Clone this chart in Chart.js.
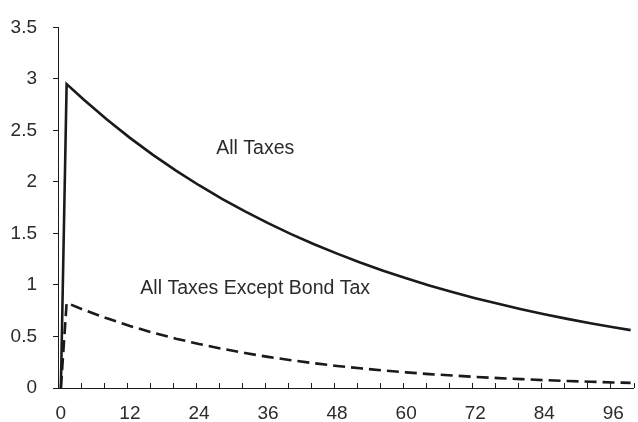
<!DOCTYPE html>
<html>
<head>
<meta charset="utf-8">
<script src="https://cdn.jsdelivr.net/npm/chart.js@4"></script>
<style>
  html, body { margin: 0; padding: 0; background: #fff; }
  #wrap { width: 638px; height: 422px; }
</style>
</head>
<body>
<div id="wrap"><canvas id="taxChart" width="638" height="422"></canvas></div>
<script>
// Values
const months = [0, 1, 4, 8, 12, 16, 20, 24, 28, 32, 36, 40, 44, 48, 52, 56, 60, 64, 68, 72, 76, 80, 84, 88, 92, 96, 99];
const allTaxes = [0, 2.95, 2.797, 2.606, 2.428, 2.263, 2.110, 1.968, 1.836, 1.714, 1.600, 1.494, 1.395, 1.304, 1.218, 1.139, 1.065, 0.996, 0.932, 0.872, 0.817, 0.765, 0.716, 0.671, 0.629, 0.590, 0.562];
const exceptBondTax = [0, 0.826, 0.758, 0.676, 0.602, 0.537, 0.479, 0.427, 0.381, 0.339, 0.302, 0.270, 0.240, 0.214, 0.191, 0.170, 0.152, 0.135, 0.121, 0.108, 0.096, 0.086, 0.076, 0.068, 0.061, 0.054, 0.050];
const xLabelTicks = [0, 12, 24, 36, 48, 60, 72, 84, 96];
const xMarkTicks = [3.5, 7.5, 11.5, 15.5, 19.5, 23.5, 27.5, 31.5, 35.5, 39.5, 43.5, 47.5, 51.5, 55.5, 59.5, 63.5, 67.5, 71.5, 75.5, 79.5, 83.5, 87.5, 91.5, 95.5, 99.5];
const notes = [
    { text: 'All Taxes', x: 27, y: 2.27 },
    { text: 'All Taxes Except Bond Tax', x: 13.8, y: 0.91 }
];

const FONT = 'Liberation Sans, Arial, sans-serif';
const INK = '#1a1a1a';
const TEXT = '#2b2b2b';

function toPoints(ys) {
    return months.map((m, i) => ({ x: m, y: ys[i] }));
}

// inward tick marks on x axis + text labels
const decorPlugin = {
    id: 'decor',
    afterDraw(chart) {
        const ctx = chart.ctx;
        const xs = chart.scales.x;
        const ys = chart.scales.y;
        const bottom = chart.chartArea.bottom;
        ctx.save();
        ctx.strokeStyle = INK;
        ctx.lineWidth = 1;
        xMarkTicks.forEach(v => {
            const px = Math.round(xs.getPixelForValue(v)) + 0.5;
            ctx.beginPath();
            ctx.moveTo(px, bottom);
            ctx.lineTo(px, bottom - 5);
            ctx.stroke();
        });
        ctx.fillStyle = TEXT;
        ctx.font = '19.5px ' + FONT;
        ctx.textAlign = 'left';
        ctx.textBaseline = 'alphabetic';
        notes.forEach(n => {
            ctx.fillText(n.text, xs.getPixelForValue(n.x), ys.getPixelForValue(n.y));
        });
        ctx.restore();
    }
};

function initChart() {
    const ctx = document.getElementById('taxChart');
    new Chart(ctx, {
        type: 'line',
        data: {
            datasets: [{
                label: 'All Taxes',
                data: toPoints(allTaxes),
                borderColor: INK,
                borderWidth: 2.6,
                pointRadius: 0,
                tension: 0
            }, {
                label: 'All Taxes Except Bond Tax',
                data: toPoints(exceptBondTax),
                borderColor: INK,
                borderWidth: 2.6,
                borderDash: [12, 6],
                pointRadius: 0,
                tension: 0
            }]
        },
        options: {
            responsive: false,
            animation: false,
            devicePixelRatio: 1,
            layout: { padding: { top: 18, right: 2, left: 0, bottom: 0 } },
            plugins: {
                legend: { display: false },
                tooltip: { enabled: false }
            },
            scales: {
                x: {
                    type: 'linear',
                    min: -0.5,
                    max: 99.5,
                    afterBuildTicks(scale) {
                        scale.ticks = xLabelTicks.map(v => ({ value: v }));
                    },
                    afterFit(scale) { scale.height = 34; },
                    grid: { display: false, drawTicks: false },
                    border: { display: true, color: INK, width: 1 },
                    ticks: {
                        autoSkip: false,
                        maxRotation: 0,
                        padding: 14,
                        color: TEXT,
                        font: { family: FONT, size: 19 }
                    }
                },
                y: {
                    min: 0,
                    max: 3.5,
                    afterFit(scale) { scale.width = 58; },
                    grid: {
                        drawOnChartArea: false,
                        drawTicks: true,
                        tickLength: 5,
                        color: INK
                    },
                    border: { display: true, color: INK, width: 1 },
                    ticks: {
                        stepSize: 0.5,
                        padding: 16,
                        color: TEXT,
                        font: { family: FONT, size: 19 },
                        callback: v => String(v)
                    }
                }
            }
        },
        plugins: [decorPlugin]
    });
}

document.addEventListener('DOMContentLoaded', initChart);
</script>
</body>
</html>
